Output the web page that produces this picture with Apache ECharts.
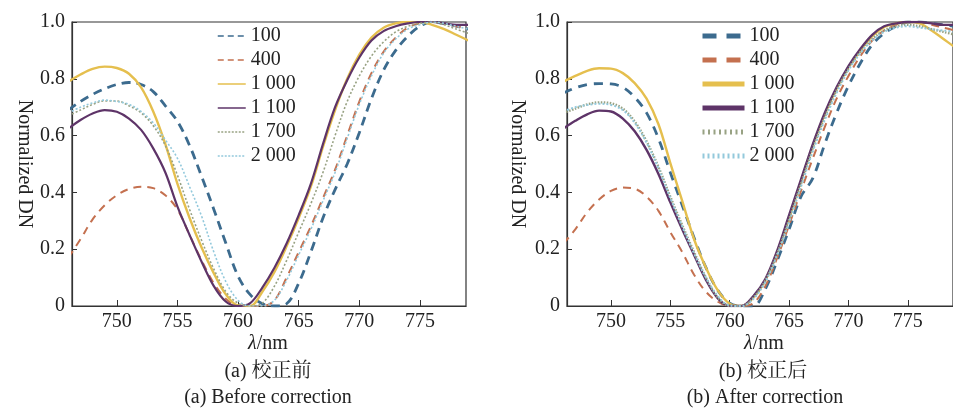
<!DOCTYPE html>
<html><head><meta charset="utf-8">
<script src="https://cdn.jsdelivr.net/npm/echarts@6/dist/echarts.min.js"></script>
<style>html,body{margin:0;padding:0;background:#fff}#c{width:953px;height:408px}</style>
</head><body><div id="c"></div>
<script>
// wavelength samples (nm)
const xs = [746,747,748,749,750,751,752,753,754,755,756,757,758,759,760,761,762,763,764,765,766,767,768,769,770,771,772,773,774,775,776,777,778,779];
const legendNames = ['100','400','1 000','1 100','1 700','2 000'];
const xTicks = [750,755,760,765,770,775];
const yTicks = [0,0.2,0.4,0.6,0.8,1.0];

// (a) before correction
const a100  = [0.69,0.72,0.745,0.765,0.78,0.787,0.78,0.755,0.705,0.65,0.565,0.455,0.34,0.22,0.105,0.04,0.008,0,0.008,0.08,0.19,0.31,0.41,0.50,0.61,0.73,0.83,0.90,0.95,0.985,1.0,0.995,0.985,0.975];
const a400  = [0.17,0.235,0.305,0.355,0.39,0.412,0.42,0.415,0.39,0.34,0.25,0.16,0.08,0.025,0,0,0,0.02,0.10,0.19,0.28,0.38,0.48,0.60,0.72,0.82,0.895,0.945,0.98,0.995,1.0,0.995,0.985,0.975];
const a1000 = [0.79,0.815,0.835,0.843,0.838,0.818,0.77,0.685,0.57,0.43,0.31,0.205,0.115,0.04,0.002,0,0.05,0.12,0.21,0.31,0.42,0.56,0.69,0.80,0.885,0.945,0.98,0.995,1.0,1.0,0.99,0.975,0.955,0.935];
const a1100 = [0.625,0.655,0.678,0.69,0.684,0.66,0.62,0.555,0.47,0.35,0.25,0.155,0.07,0.015,0,0.01,0.065,0.135,0.22,0.32,0.43,0.57,0.70,0.795,0.875,0.935,0.968,0.985,0.995,1.0,1.0,0.995,0.99,0.99];
const a1700 = [0.67,0.69,0.71,0.722,0.722,0.705,0.68,0.635,0.565,0.46,0.34,0.23,0.13,0.05,0.01,0,0.01,0.07,0.16,0.26,0.36,0.47,0.60,0.72,0.81,0.88,0.93,0.965,0.985,0.995,1.0,0.99,0.975,0.96];
const a2000 = [0.68,0.70,0.715,0.725,0.72,0.71,0.685,0.645,0.585,0.52,0.42,0.315,0.19,0.085,0.02,0,0,0.02,0.09,0.18,0.27,0.37,0.47,0.59,0.71,0.81,0.89,0.94,0.975,0.99,1.0,0.995,0.985,0.975];

// (b) after correction
const b100  = [0.75,0.768,0.78,0.783,0.782,0.77,0.735,0.68,0.59,0.47,0.355,0.24,0.135,0.055,0.01,0,0,0.06,0.16,0.27,0.385,0.45,0.57,0.68,0.775,0.855,0.92,0.96,0.985,1.0,1.0,0.995,0.99,0.985];
const b400  = [0.22,0.27,0.33,0.375,0.405,0.417,0.413,0.385,0.335,0.26,0.19,0.11,0.05,0.015,0,0,0.01,0.07,0.17,0.285,0.405,0.52,0.63,0.73,0.81,0.88,0.935,0.97,0.99,1.0,1.0,0.99,0.98,0.97];
const b1000 = [0.79,0.81,0.828,0.837,0.836,0.82,0.785,0.73,0.64,0.503,0.37,0.235,0.135,0.055,0.008,0,0.03,0.09,0.19,0.31,0.44,0.565,0.675,0.765,0.84,0.90,0.95,0.982,0.995,1.0,0.995,0.97,0.94,0.91];
const b1100 = [0.625,0.652,0.675,0.688,0.685,0.66,0.615,0.55,0.465,0.365,0.27,0.18,0.092,0.027,0,0,0.035,0.095,0.195,0.32,0.445,0.57,0.68,0.77,0.845,0.905,0.955,0.985,0.995,1.0,1.0,0.995,0.99,0.99];
const b1700 = [0.68,0.695,0.71,0.717,0.714,0.695,0.65,0.58,0.49,0.385,0.285,0.19,0.10,0.03,0,0,0.03,0.09,0.185,0.305,0.43,0.555,0.665,0.76,0.835,0.895,0.94,0.97,0.985,0.99,0.985,0.975,0.965,0.955];
const b2000 = [0.685,0.70,0.708,0.712,0.708,0.69,0.645,0.575,0.485,0.38,0.28,0.185,0.10,0.035,0.002,0,0.025,0.085,0.18,0.295,0.42,0.545,0.655,0.75,0.83,0.89,0.935,0.965,0.98,0.985,0.98,0.975,0.97,0.965];

const colors = ['#3c6b8e','#c4704f','#e5bf4e','#5e3468','#98a283','#93c9dc'];
const zip = arr => xs.map((x,i)=>[x,arr[i]]);
const FONT = "'Times New Roman','Liberation Serif','Noto Serif CJK SC','Noto Sans CJK SC',serif";

const leftStyles = [
  {width:2.8,type:[9,6]},{width:2,type:[8,6]},{width:2.4,type:'solid'},
  {width:2.2,type:'solid'},{width:1.6,type:[2,2]},{width:1.6,type:[2,2]}
];
const rightStyles = [
  {width:2.8,type:[9,7]},{width:2,type:[8,6]},{width:2.4,type:'solid'},
  {width:2.4,type:'solid'},{width:2.4,type:[1.5,1.5]},{width:2,type:[2,2]}
];
const leftData = [a100,a400,a1000,a1100,a1700,a2000];
const rightData = [b100,b400,b1000,b1100,b1700,b2000];

const series = [];
leftData.forEach((d,i)=>series.push({
  name:'a'+i, type:'line', xAxisIndex:0, yAxisIndex:0, data:zip(d), smooth:0.35,
  showSymbol:false, symbol:'none', clip:true,
  lineStyle:{color:colors[i], width:leftStyles[i].width, type:leftStyles[i].type},
  itemStyle:{color:colors[i]}
}));
rightData.forEach((d,i)=>series.push({
  name:'b'+i, type:'line', xAxisIndex:1, yAxisIndex:1, data:zip(d), smooth:0.35,
  showSymbol:false, symbol:'none', clip:true,
  lineStyle:{color:colors[i], width:rightStyles[i].width, type:rightStyles[i].type},
  itemStyle:{color:colors[i]}
}));

const axisColor = '#333';
function xAxis(gi){
  return {type:'value', gridIndex:gi, min:746.3, max:778.8, splitNumber:6,
    axisLine:{show:true,lineStyle:{color:axisColor,width:1.2}},
    axisTick:{show:true,inside:true,length:6,lineStyle:{color:axisColor}},
    axisLabel:{color:'#222',fontSize:20,fontFamily:FONT,margin:6,showMinLabel:false,showMaxLabel:false},
    splitLine:{show:false}};
}
function yAxis(gi){
  return {type:'value', gridIndex:gi, min:0, max:1, interval:0.2,
    axisLine:{show:true,lineStyle:{color:axisColor,width:1.2}},
    axisTick:{show:true,inside:true,length:5,lineStyle:{color:axisColor}},
    axisLabel:{color:'#222',fontSize:20,fontFamily:FONT,margin:7,
      formatter:v=> v===0?'0':v.toFixed(1)},
    splitLine:{show:false}};
}
function legend(prefix,left,wide){
  return {orient:'vertical', left:left, top:26, itemWidth:wide?42:28, itemHeight:16, itemGap:4,
    padding:0, textStyle:{fontSize:20,fontFamily:FONT,color:'#222',lineHeight:16},
    itemStyle:{opacity:0, borderWidth:0},
    formatter:n=>legendNames[+n.slice(1)],
    data:legendNames.map((_,i)=>{
      const o={name:prefix+i, itemStyle:{opacity:0, borderWidth:0}};
      if(wide){
        const t=[[14,10],[14,10],'solid','solid',[2,3.5],[2,3]][i];
        o.lineStyle={width:5,type:t,color:colors[i],opacity:1};
      } else {
        o.lineStyle={width:1.5,type:[[6,4],[6,4],'solid','solid',[2,1.5],[2,1.5]][i],color:colors[i],opacity:1};
      }
      return o;
    })};
}
function txt(x,y,t,rot){
  return {type:'text', x:x, y:y, rotation:rot||0, style:{text:t, fill:'#222', font:"20px "+FONT, align:'center', verticalAlign:'middle'}};
}
function rich(x,y){
  return {type:'text', x:x, y:y, style:{text:'{i|λ}/nm', fill:'#222', font:"20px "+FONT, align:'center', verticalAlign:'middle',
    rich:{i:{fontStyle:'italic',fontSize:20,fontFamily:FONT,fill:'#222'}}}};
}

const chart = echarts.init(document.getElementById('c'), null, {renderer:'canvas'});
chart.setOption({
  animation:false,
  backgroundColor:'#fff',
  grid:[
    {left:72, top:22, width:394, height:284, show:true, borderColor:axisColor, borderWidth:1.2, backgroundColor:'transparent'},
    {left:567, top:22, width:394, height:284, show:true, borderColor:axisColor, borderWidth:1.2, backgroundColor:'transparent'}
  ],
  xAxis:[xAxis(0),xAxis(1)],
  yAxis:[yAxis(0),yAxis(1)],
  legend:[legend('a',217,false), legend('b',700,true)],
  series:series,
  graphic:[
    txt(24,164,'Normalized DN',-Math.PI/2),
    txt(517,164,'Normalized DN',-Math.PI/2),
    rich(268,344), rich(764,344),
    txt(268,372,'(a) 校正前'), txt(763,372,'(b) 校正后'),
    txt(268,398,'(a) Before correction'), txt(765,398,'(b) After correction')
  ]
});
</script></body></html>
